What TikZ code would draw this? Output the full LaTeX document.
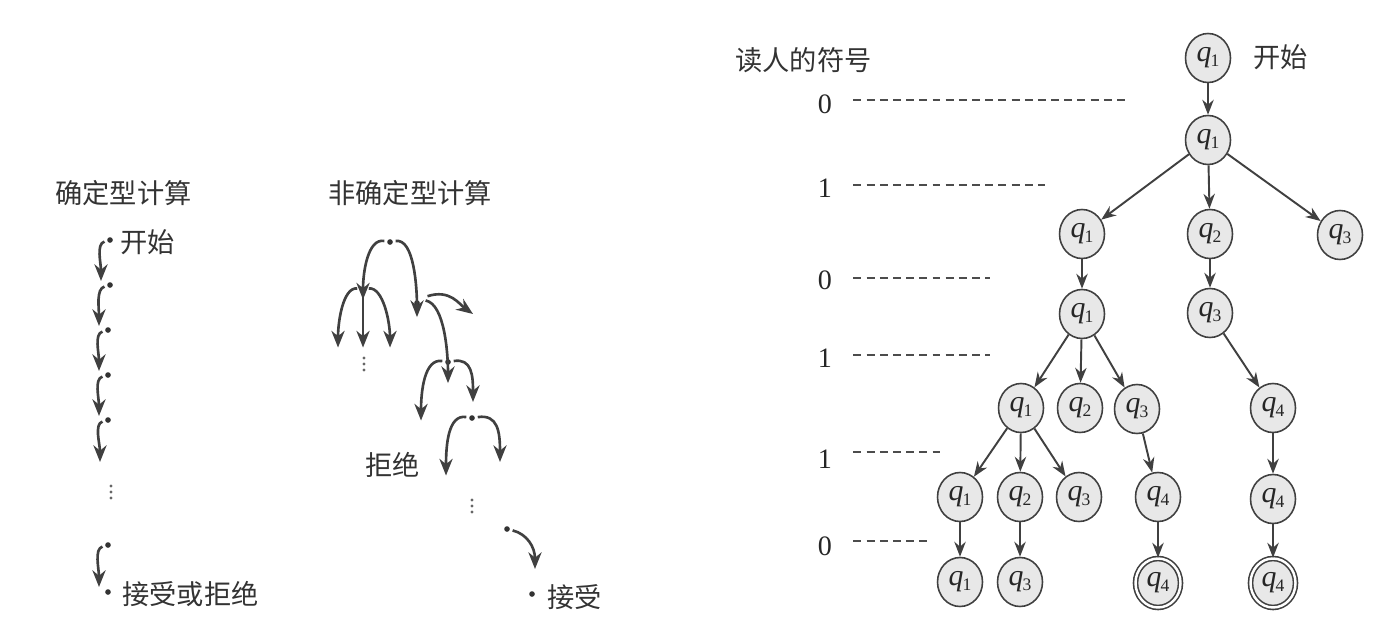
\documentclass[tikz,border=0pt]{standalone}
\usepackage{fontspec}
\setmainfont{Liberation Serif}
\newfontfamily\cjk{Noto Sans CJK SC}
\usetikzlibrary{arrows.meta,shapes.geometric}
\newcommand{\qs}[1]{{\itshape q}\kern-0.5pt\raisebox{-0.35ex}{\fontsize{10}{10}\selectfont #1}}
\begin{document}
\begin{tikzpicture}[x=0.02cm,y=-0.02cm,
 st/.style={ellipse,draw=black!75,fill=black!9,line width=0.9pt,minimum width=0.9cm,minimum height=0.98cm,inner sep=0pt,font=\fontsize{17}{17}\selectfont,text=black!85},
 acc/.style={st,double=white,double distance=1.4pt},
 tr/.style={-{Stealth[length=8.5pt,width=6.5pt]},line width=1.1pt,draw=black!75},
 cv/.style={-{Stealth[length=9.5pt,width=7.5pt]},line width=1.5pt,draw=black!75,shorten <=1.5pt},
 dt/.style={circle,fill=black!80,inner sep=0pt,minimum size=3.2pt},
 vdt/.style={circle,fill=black!60,inner sep=0pt,minimum size=1.8pt},
 cj/.style={font=\cjk\fontsize{15.5}{15.5}\selectfont,text=black!80,inner sep=0pt},
 dg/.style={font=\fontsize{16}{16}\selectfont,text=black!85,inner sep=0pt},
 dl/.style={dash pattern=on 4.5pt off 3pt,line width=0.8pt,draw=black!70}
]
\useasboundingbox (0,0) rectangle (1395,625);

% ---------------- deterministic ----------------
\node[cj,anchor=west] (tdet) at (55,193) {确定型计算};
\node[dt] (d1) at (110,240) {};
\node[dt] (d2) at (110,285) {};
\node[dt] (d3) at (108,330) {};
\node[dt] (d4) at (108,375) {};
\node[dt] (d5) at (108,420) {};
\coordinate (d6) at (100,462);
\foreach \yy in {486,492,498} \node[vdt] at (111,\yy) {};
\node[dt] (d7) at (108,545) {};
\node[dt] (d8) at (108,592) {};
\node[cj,anchor=west] (lstart) at (120,242) {开始};
\node[cj,anchor=west] (lend) at (122,594) {接受或拒绝};
\draw[cv] (d1) .. controls +(-14,4) and +(0,-18) .. ([shift={(-9,-4)}]d2.center);
\draw[cv] (d2) .. controls +(-14,4) and +(0,-18) .. ([shift={(-9,-4)}]d3.center);
\draw[cv] (d3) .. controls +(-14,4) and +(0,-18) .. ([shift={(-9,-4)}]d4.center);
\draw[cv] (d4) .. controls +(-14,4) and +(0,-18) .. ([shift={(-9,-4)}]d5.center);
\draw[cv] (d5) .. controls +(-14,4) and +(0,-18) .. (d6);
\draw[cv] (d7) .. controls +(-14,4) and +(0,-18) .. ([shift={(-9,-5)}]d8.center);

% ---------------- nondeterministic ----------------
\node[cj,anchor=west] (tnon) at (328,193) {非确定型计算};
\node[dt] (r) at (390,242) {};
\node[dt] (a) at (363,289) {};
\node[dt] (b) at (417,303) {};
\node[dt] (a1) at (338,337) {};
\node[dt] (a2) at (363,337) {};
\node[dt] (a3) at (390,337) {};
\foreach \yy in {358,364,370} \node[vdt] at (364,\yy) {};
\coordinate (bx) at (473,314);
\node[dt] (c) at (448,362) {};
\node[dt] (e) at (421,410) {};
\node[dt] (f) at (472,418) {};
\coordinate (cx) at (473,402);
\node[dt] (g) at (446,465) {};
\coordinate (fx) at (500,462);
\node[cj,anchor=east] (rej) at (420,465) {拒绝};
\foreach \yy in {500,506,512} \node[vdt] at (472,\yy) {};
\node[dt] (h) at (507,529) {};
\node[dt] (k) at (532,594) {};
\node[cj,anchor=west] (acc) at (547,597) {接受};
\coordinate (hx) at (535,569);

\draw[cv] (r) .. controls +(-22,-4) and +(0,-28) .. ([yshift=-6]a.center);
\draw[cv] (r) .. controls +(24,-4) and +(0,-30) .. ([yshift=-8]b.center);
\draw[cv] (a) .. controls +(-20,-2) and +(0,-26) .. ([yshift=-6]a1.center);
\draw[cv] (a) -- ([yshift=-6]a2.center);
\draw[cv] (a) .. controls +(20,-2) and +(0,-26) .. ([yshift=-6]a3.center);
\draw[cv] ([shift={(8,-6)}]b.center) .. controls +(25,-8) and +(-14,-10) .. (bx);
\draw[cv] ([shift={(6,-3)}]b.center) .. controls +(22,4) and +(0,-28) .. ([yshift=-12]c.center);
\draw[cv] (c) .. controls +(-24,-4) and +(0,-28) .. ([yshift=-6]e.center);
\draw[cv] (c) .. controls +(24,-4) and +(0,-26) .. (cx);
\draw[cv] (f) .. controls +(-24,-4) and +(0,-30) .. ([yshift=-6]g.center);
\draw[cv] (f) .. controls +(26,-4) and +(0,-30) .. (fx);
\draw[cv] (h) .. controls +(20,5) and +(0,-22) .. (hx);

% ---------------- tree ----------------
\node[cj,anchor=west] (sym) at (735,60) {读人的符号};
\node[dg] (s1) at (825,104) {0};
\node[dg] (s2) at (825,188) {1};
\node[dg] (s3) at (825,280) {0};
\node[dg] (s4) at (825,358) {1};
\node[dg] (s5) at (825,459) {1};
\node[dg] (s6) at (825,546) {0};
\coordinate (e1) at (1125,100);
\coordinate (e2) at (1045,185);
\coordinate (e3) at (990,278);
\coordinate (e4) at (990,355);
\coordinate (e5) at (945,452);
\coordinate (e6) at (930,541);

\node[st] (n0) at (1208,58) {\qs{1}};
\node[cj,anchor=west] (tst) at (1253,57) {开始};
\node[st] (n1) at (1208,140) {\qs{1}};
\node[st] (n21) at (1082,234) {\qs{1}};
\node[st] (n22) at (1210,234) {\qs{2}};
\node[st] (n23) at (1340,235) {\qs{3}};
\node[st] (n31) at (1082,314) {\qs{1}};
\node[st] (n32) at (1210,313) {\qs{3}};
\node[st] (n41) at (1021,408) {\qs{1}};
\node[st] (n42) at (1080,408) {\qs{2}};
\node[st] (n43) at (1137,409) {\qs{3}};
\node[st] (n44) at (1273,408) {\qs{4}};
\node[st] (n51) at (960,497) {\qs{1}};
\node[st] (n52) at (1020,497) {\qs{2}};
\node[st] (n53) at (1079,497) {\qs{3}};
\node[st] (n54) at (1158,497) {\qs{4}};
\node[st] (n55) at (1273,499) {\qs{4}};
\node[st] (n61) at (960,582) {\qs{1}};
\node[st] (n62) at (1020,582) {\qs{3}};
\node[acc] (n63) at (1158,583) {\qs{4}};
\node[acc] (n64) at (1273,583) {\qs{4}};

\draw[tr] (n0) -- (n1);
\draw[tr] (n1) -- (n21);
\draw[tr] (n1) -- (n22);
\draw[tr] (n1) -- (n23);
\draw[tr] (n21) -- (n31);
\draw[tr] (n22) -- (n32);
\draw[tr] (n31) -- (n41);
\draw[tr] (n31) -- (n42);
\draw[tr] (n31) -- (n43);
\draw[tr] (n32) -- (n44);
\draw[tr] (n41) -- (n51);
\draw[tr] (n41) -- (n52);
\draw[tr] (n41) -- (n53);
\draw[tr] (n43) -- (n54);
\draw[tr] (n44) -- (n55);
\draw[tr] (n51) -- (n61);
\draw[tr] (n52) -- (n62);
\draw[tr] (n54) -- (n63);
\draw[tr] (n55) -- (n64);

\draw[dl] ([xshift=12]s1.east |- e1) -- (e1);
\draw[dl] ([xshift=12]s2.east |- e2) -- (e2);
\draw[dl] ([xshift=12]s3.east |- e3) -- (e3);
\draw[dl] ([xshift=12]s4.east |- e4) -- (e4);
\draw[dl] ([xshift=12]s5.east |- e5) -- (e5);
\draw[dl] ([xshift=12]s6.east |- e6) -- (e6);
\end{tikzpicture}
\end{document}
